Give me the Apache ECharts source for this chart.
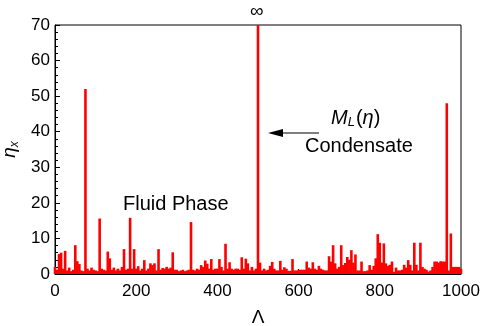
<!DOCTYPE html>
<html><head><meta charset="utf-8">
<script src="https://cdn.jsdelivr.net/npm/echarts@6/dist/echarts.min.js"></script>
<style>html,body{margin:0;padding:0;background:#fff}#c{width:482px;height:326px}</style>
</head><body><div id="c"></div>
<script>
const lambda = [
  0,5,10,15,20,25,30,35,40,45,
  50,55,60,65,70,75,80,85,90,95,
  100,105,110,115,120,125,130,135,140,145,
  150,155,160,165,170,175,180,185,190,195,
  200,205,210,215,220,225,230,235,240,245,
  250,255,260,265,270,275,280,285,290,295,
  300,305,310,315,320,325,330,335,340,345,
  350,355,360,365,370,375,380,385,390,395,
  400,405,410,415,420,425,430,435,440,445,
  450,455,460,465,470,475,480,485,490,495,
  500,505,510,515,520,525,530,535,540,545,
  550,555,560,565,570,575,580,585,590,595,
  600,605,610,615,620,625,630,635,640,645,
  650,655,660,665,670,675,680,685,690,695,
  700,705,710,715,720,725,730,735,740,745,
  750,755,760,765,770,775,780,785,790,795,
  800,805,810,815,820,825,830,835,840,845,
  850,855,860,865,870,875,880,885,890,895,
  900,905,910,915,920,925,930,935,940,945,
  950,955,960,965,970,975,980,985,990,995,
  1000
];
const eta = [
  2.0, 1.2, 5.6, 6.0, 1.5, 6.5, 1.0, 1.8, 0.8, 1.2,
  8.1, 3.6, 2.8, 1.0, 0.8, 52, 1.5, 1.0, 1.8, 1.2,
  1.0, 0.8, 15.6, 1.5, 1.2, 1.0, 6.3, 4.4, 1.2, 1.8,
  1.0, 1.5, 1.0, 2.0, 7.0, 1.2, 1.5, 15.8, 1.5, 7.0,
  1.5, 2.2, 1.0, 1.5, 3.9, 1.0, 1.5, 3.0, 2.5, 3.0,
  1.0, 7.0, 1.2, 1.7, 1.5, 2.0, 1.5, 1.8, 6.1, 1.2,
  1.2, 0.8, 1.0, 1.2, 0.8, 1.0, 1.2, 14.6, 1.2, 1.0,
  1.5, 1.2, 2.5, 2.0, 3.8, 2.9, 1.5, 4.2, 1.2, 1.5,
  1.5, 4.2, 2.0, 1.0, 8.5, 1.5, 3.3, 1.5, 1.2, 1.5,
  1.5, 1.2, 4.7, 1.5, 4.3, 3.0, 1.0, 2.0, 1.0, 1.5,
  70, 3.2, 1.0, 1.5, 1.0, 1.2, 2.3, 3.4, 1.5, 1.0,
  1.0, 3.7, 1.2, 1.9, 1.5, 0.9, 0.9, 4.2, 1.0, 1.0,
  1.2, 1.2, 1.2, 1.2, 3.5, 1.8, 1.5, 3.3, 1.5, 1.2,
  2.3, 1.5, 1.2, 1.0, 1.0, 5.0, 3.5, 8.1, 3.0, 1.5,
  2.0, 8.1, 2.5, 3.1, 4.8, 4.0, 6.7, 3.2, 5.5, 1.0,
  1.0, 3.5, 0.8, 0.8, 1.0, 2.5, 1.2, 2.3, 4.4, 11.2,
  8.8, 3.2, 8.6, 3.0, 2.3, 2.6, 3.5, 0.6, 1.8, 1.0,
  1.0, 1.2, 2.6, 1.8, 3.9, 2.6, 1.0, 8.8, 2.6, 1.0,
  8.8, 2.0, 1.5, 1.2, 0.7, 1.0, 2.0, 3.5, 3.5, 3.2,
  3.6, 3.5, 3.5, 48, 1.0, 11.4, 2.0, 2.0, 2.0, 2.0,
  1.5
];
const xTicks = [0, 200, 400, 600, 800, 1000];
const yTicks = [0, 10, 20, 30, 40, 50, 60, 70];

const chart = echarts.init(document.getElementById('c'), null, {renderer: 'canvas'});
const font = 'Liberation Sans, Arial, sans-serif';
const pairs = lambda.map((x, i) => [x, eta[i]]);
chart.setOption({
  animation: false,
  grid: {left: 55, right: 21, top: 25, bottom: 52, containLabel: false, outerBoundsMode: 'none',
         show: true, borderColor: '#000', borderWidth: 1, backgroundColor: 'transparent'},
  xAxis: {
    type: 'value', min: xTicks[0], max: xTicks[xTicks.length - 1], interval: 200,
    name: 'Λ', nameLocation: 'middle', nameGap: 34,
    nameTextStyle: {fontFamily: font, fontSize: 19, color: '#000'},
    axisLine: {show: true, lineStyle: {color: '#000', width: 1}},
    axisTick: {show: true, inside: true, length: 5, lineStyle: {color: '#000'}},
    minorTick: {show: true, splitNumber: 4, length: 3, lineStyle: {color: '#000'}},
    splitLine: {show: false},
    axisLabel: {fontFamily: font, fontSize: 17, color: '#000', margin: 9, formatter: v => String(v)}
  },
  yAxis: {
    type: 'value', min: yTicks[0], max: yTicks[yTicks.length - 1], interval: 10,
    name: '{a|η}{b|x}', nameLocation: 'middle', nameGap: 28, nameRotate: 90,
    nameTextStyle: {rich: {
      a: {fontFamily: font, fontSize: 19, fontStyle: 'italic', color: '#000'},
      b: {fontFamily: font, fontSize: 12, fontStyle: 'italic', color: '#000', verticalAlign: 'bottom', padding: [8, 0, 0, 0]}
    }},
    axisLine: {show: true, lineStyle: {color: '#000', width: 1}},
    axisTick: {show: true, inside: true, length: 5, lineStyle: {color: '#000'}},
    minorTick: {show: true, splitNumber: 5, length: 3, lineStyle: {color: '#000'}},
    splitLine: {show: false},
    axisLabel: {fontFamily: font, fontSize: 17, color: '#000', margin: 5, formatter: v => String(v)}
  },
  series: [{
    type: 'bar', data: pairs, barWidth: 2.6, barGap: '-100%',
    itemStyle: {color: '#ff0000'}, silent: true, clip: true
  }],
  graphic: [
    {type: 'text', left: 250, top: 2, style: {text: '∞', font: '19px ' + font, fill: '#000'}},
    {type: 'text', left: 123, top: 194, style: {text: 'Fluid Phase', font: '20px ' + font, fill: '#000'}},
    {type: 'text', left: 331, top: 108, style: {
      text: '{i|M}{s|L}{n|(}{i|η}{n|)}',
      rich: {
        i: {fontFamily: font, fontSize: 20, fontStyle: 'italic', fill: '#000'},
        n: {fontFamily: font, fontSize: 20, fill: '#000'},
        s: {fontFamily: font, fontSize: 13, fontStyle: 'italic', fill: '#000', padding: [9, 1, 0, 0]}
      }
    }},
    {type: 'text', left: 305, top: 136, style: {text: 'Condensate', font: '20px ' + font, fill: '#000'}},
    {type: 'line', shape: {x1: 280, y1: 133, x2: 319, y2: 133}, style: {stroke: '#000', lineWidth: 1}},
    {type: 'polygon', shape: {points: [[268, 133], [283, 129], [283, 137]]}, style: {fill: '#000'}}
  ]
});
</script>
</body></html>
